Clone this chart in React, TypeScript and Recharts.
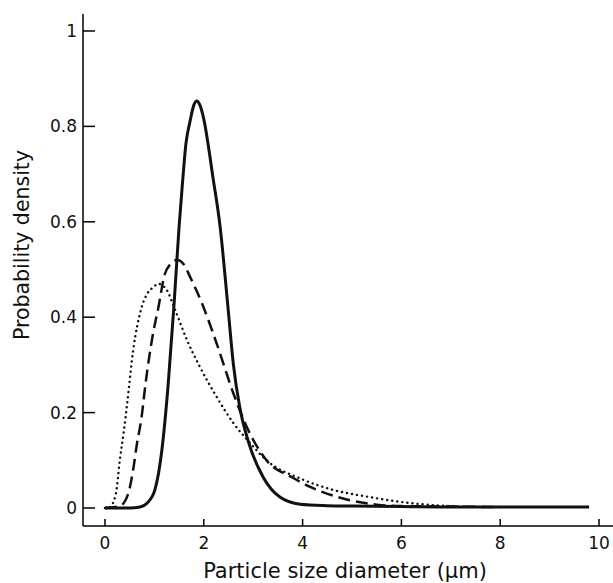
import React from 'react';
import { LineChart, Line, XAxis, YAxis, Label } from 'recharts';

const solidX = [0, 0.5, 0.71, 0.85, 1.01, 1.15, 1.28, 1.4, 1.5, 1.56, 1.64, 1.72, 1.8, 1.86, 1.92, 1.99, 2.19, 2.33, 2.49, 2.6, 2.73, 2.9, 3.2, 3.54, 3.95, 4.5, 5, 6, 7, 8, 9, 9.8];
const solidY = [0, 0, 0.002, 0.01, 0.038, 0.12, 0.26, 0.43, 0.59, 0.67, 0.765, 0.81, 0.845, 0.853, 0.845, 0.82, 0.69, 0.59, 0.42, 0.3, 0.21, 0.14, 0.065, 0.023, 0.008, 0.005, 0.004, 0.003, 0.002, 0.002, 0.002, 0.002];

const dashedX = [0, 0.3, 0.47, 0.57, 0.64, 0.74, 0.82, 0.98, 1.08, 1.21, 1.33, 1.46, 1.6, 1.72, 1.96, 2.26, 2.6, 2.87, 3.27, 3.81, 4.2, 4.82, 5.5, 6, 7, 8];
const dashedY = [0, 0.004, 0.03, 0.08, 0.13, 0.19, 0.26, 0.37, 0.42, 0.49, 0.512, 0.52, 0.51, 0.485, 0.43, 0.345, 0.24, 0.17, 0.1, 0.063, 0.042, 0.02, 0.007, 0.004, 0.003, 0.002];

const dottedX = [0, 0.1, 0.22, 0.3, 0.38, 0.45, 0.57, 0.74, 0.86, 0.98, 1.08, 1.25, 1.42, 1.66, 1.92, 2.26, 2.6, 2.94, 3.27, 3.95, 4.62, 5.3, 5.97, 6.64, 7.7];
const dottedY = [0, 0.002, 0.03, 0.1, 0.16, 0.22, 0.33, 0.42, 0.45, 0.463, 0.47, 0.457, 0.415, 0.352, 0.296, 0.233, 0.178, 0.136, 0.1, 0.062, 0.038, 0.024, 0.013, 0.006, 0.002];

const xTicks = [0, 2, 4, 6, 8, 10];
const yTicks = [0, 0.2, 0.4, 0.6, 0.8, 1];

const xTitle = 'Particle size diameter (\u00b5m)';
const yTitle = 'Probability density';

const toData = (xs: number[], ys: number[]) => xs.map((x, i) => ({ x, y: ys[i] }));
const solidData = toData(solidX, solidY);
const dashedData = toData(dashedX, dashedY);
const dottedData = toData(dottedX, dottedY);

const FONT = '"DejaVu Sans", sans-serif';

const YTick = (props: any) => {
  const { x, y, payload } = props;
  return (
    <g>
      <line x1={x} y1={y} x2={x + 12} y2={y} stroke="#000" strokeWidth={1.5} />
      <text x={x - 6} y={y} textAnchor="end" dominantBaseline="central" fontSize={17} fontFamily={FONT} fill="#111">
        {payload.value}
      </text>
    </g>
  );
};

const XTick = (props: any) => {
  const { x, y, payload } = props;
  return (
    <g>
      <line x1={x} y1={y} x2={x} y2={y - 7} stroke="#000" strokeWidth={1.5} />
      <text x={x} y={y + 17} textAnchor="middle" dominantBaseline="central" fontSize={17} fontFamily={FONT} fill="#111">
        {payload.value}
      </text>
    </g>
  );
};

export default function App() {
  return (
    <div style={{ position: 'absolute', left: 0, top: 0, background: '#fff' }}>
      <LineChart width={613} height={583} margin={{ top: 14, right: 0, bottom: 0, left: 0 }}>
        <XAxis
          type="number"
          dataKey="x"
          domain={[-0.445, 10.283]}
          ticks={xTicks}
          tickSize={0}
          tickMargin={0}
          tickLine={false}
          tick={<XTick />}
          height={57}
          axisLine={{ stroke: '#000', strokeWidth: 1.5 }}
          interval={0}
        >
          <Label
            content={() => (
              <text x={345} y={578} textAnchor="middle" fontSize={21} fontFamily={FONT} fill="#111">
                {xTitle}
              </text>
            )}
          />
        </XAxis>
        <YAxis
          type="number"
          domain={[-0.0377, 1.0356]}
          ticks={yTicks}
          tickSize={0}
          tickMargin={0}
          tickLine={false}
          tick={<YTick />}
          width={83}
          axisLine={{ stroke: '#000', strokeWidth: 1.5 }}
          interval={0}
        >
          <Label
            content={() => (
              <text x={29} y={245} transform="rotate(-90 29 245)" textAnchor="middle" fontSize={20.5} fontFamily={FONT} fill="#111">
                {yTitle}
              </text>
            )}
          />
        </YAxis>
        <Line data={dottedData} dataKey="y" type="monotone" stroke="#111" strokeWidth={2.4} strokeDasharray="0.1 5" strokeLinecap="round" dot={false} isAnimationActive={false} />
        <Line data={dashedData} dataKey="y" type="monotone" stroke="#111" strokeWidth={2.5} strokeDasharray="12 6" dot={false} isAnimationActive={false} />
        <Line data={solidData} dataKey="y" type="monotone" stroke="#111" strokeWidth={3} dot={false} isAnimationActive={false} />
      </LineChart>
    </div>
  );
}
